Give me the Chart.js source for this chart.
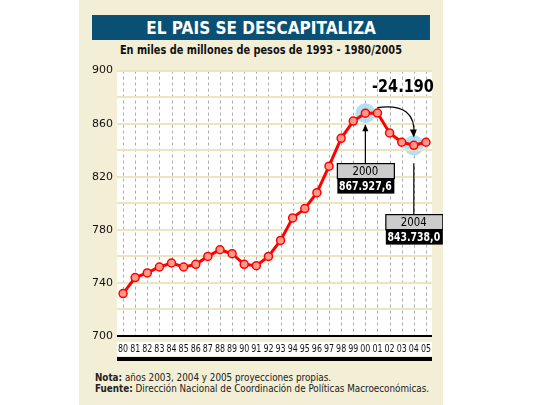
<!DOCTYPE html>
<html><head><meta charset="utf-8">
<script src="https://cdn.jsdelivr.net/npm/chart.js@4"></script>
<style>
body{margin:0;width:540px;height:405px;background:#fff;position:relative;font-family:"DejaVu Sans","Liberation Sans",sans-serif;overflow:hidden}
#panel{position:absolute;left:79px;top:0;width:364px;height:405px;background:#f3eed6}
#banner{position:absolute;left:92px;top:15px;width:338px;height:25px;background:#0a5074;color:#fff;font:bold 18px "DejaVu Sans",sans-serif;text-align:center;line-height:25px}
#banner span,#sub span{display:inline-block;transform:scaleX(0.85)}
#sub{position:absolute;left:79px;top:43px;width:364px;text-align:center;font:bold 11.5px "DejaVu Sans",sans-serif;color:#111}
#wrap{position:absolute;left:79px;top:60px;width:364px;height:310px}
#notes{position:absolute;left:95px;top:372px;font:10px "DejaVu Sans",sans-serif;color:#222;line-height:11px;transform:scaleX(0.88);transform-origin:0 0;white-space:nowrap}
</style></head><body>
<div id="panel"></div>
<div id="banner"><span>EL PAIS SE DESCAPITALIZA</span></div>
<div id="sub"><span>En miles de millones de pesos de 1993 - 1980/2005</span></div>
<div id="wrap"><canvas id="c" width="364" height="310"></canvas></div>
<div id="notes"><b>Nota:</b> años 2003, 2004 y 2005 proyecciones propias.<br><b>Fuente:</b> Dirección Nacional de Coordinación de Políticas Macroeconómicas.</div>
<script>
const years=["80","81","82","83","84","85","86","87","88","89","90","91","92","93","94","95","96","97","98","99","00","01","02","03","04","05"];
const values=[732,744,747.5,752,755,752,754,760,765,762,754,753,760,772,789,796,808,828,849,862,867.9,868,853,846,843.7,846];
const yTicks=[700,740,780,820,860,900];
function ctext(ctx,t,x,y,sx){ctx.save();ctx.translate(x,y);ctx.scale(sx,1);ctx.fillText(t,0,0);ctx.restore();}
const deco={id:'deco',
beforeDraw(ch){const {ctx,chartArea:a}=ch;ctx.save();ctx.fillStyle='#fff';ctx.fillRect(a.left,a.top,a.right-a.left,a.bottom-a.top);
ctx.fillRect(a.left,a.bottom+6,a.right-a.left,14);ctx.fillStyle='#000';ctx.fillRect(a.left,a.bottom+21,a.right-a.left,4);
const x=ch.scales.x;ctx.strokeStyle='#aaa';ctx.setLineDash([3,3]);ctx.lineWidth=1;
years.forEach((y,i)=>{const px=Math.round(x.getPixelForValue(i))+0.5;ctx.beginPath();ctx.moveTo(px,a.top);ctx.lineTo(px,a.bottom);ctx.stroke();});
ctx.setLineDash([]);
ctx.fillStyle='#111';ctx.font='11px "DejaVu Sans"';ctx.textAlign='center';ctx.textBaseline='middle';
years.forEach((y,i)=>ctext(ctx,y,x.getPixelForValue(i),a.bottom+13,0.72));
ctx.fillStyle='rgba(160,215,240,0.8)';
[20,24].forEach(i=>{ctx.beginPath();ctx.arc(x.getPixelForValue(i),ch.scales.y.getPixelForValue(values[i]),10,0,7);ctx.fill();});
ctx.restore();},
afterDraw(ch){const {ctx,chartArea:a}=ch;const x=ch.scales.x,y=ch.scales.y;ctx.save();
ctx.fillStyle='#000';ctx.fillRect(a.left,a.bottom-1,a.right-a.left,2);
function box(i,top,l1,l2){const px=x.getPixelForValue(i);const py=y.getPixelForValue(values[i]);
ctx.strokeStyle='#000';ctx.lineWidth=1.2;ctx.beginPath();ctx.moveTo(px,top);ctx.lineTo(px,py+12);ctx.stroke();
ctx.beginPath();ctx.moveTo(px-3,py+18);ctx.lineTo(px,py+11);ctx.lineTo(px+3,py+18);ctx.fill();
const bx=px-28,w=57;ctx.fillStyle='#ccc';ctx.fillRect(bx,top,w,15);ctx.strokeRect(bx,top,w,15);ctx.fillStyle='#000';ctx.fillRect(bx,top+15,w,15);
ctx.textAlign='center';ctx.textBaseline='middle';ctx.fillStyle='#000';ctx.font='12px "DejaVu Sans"';ctext(ctx,l1,px,top+8,0.85);
ctx.fillStyle='#fff';ctx.font='bold 12px "DejaVu Sans"';ctext(ctx,l2,px,top+23,0.78);}
box(20,a.top+93,'2000','867.927,6');box(24,a.top+144,'2004','843.738,0');
const x1=x.getPixelForValue(21),x2=x.getPixelForValue(24);const y0=a.top+37;
ctx.strokeStyle='#000';ctx.lineWidth=1.2;ctx.beginPath();ctx.moveTo(x1,y0);ctx.quadraticCurveTo(x2+3,y0-5,x2,y0+28);ctx.stroke();
ctx.beginPath();ctx.moveTo(x2-4,y0+22);ctx.lineTo(x2,y0+30);ctx.lineTo(x2+3,y0+22);ctx.fillStyle='#000';ctx.fill();
ctx.font='bold 17px "DejaVu Sans"';ctx.textAlign='center';ctx.textBaseline='middle';ctext(ctx,'-24.190',x.getPixelForValue(23.1),a.top+17,0.85);
ctx.restore();}};
new Chart(document.getElementById('c'),{type:'line',
data:{labels:years,datasets:[{data:values,borderColor:'#f00',borderWidth:3,pointRadius:4,pointBackgroundColor:'#ff9a8a',pointBorderColor:'#f00',pointBorderWidth:1.5,tension:0}]},
options:{responsive:false,animation:false,layout:{padding:{left:0,right:11,top:10,bottom:0}},
plugins:{legend:{display:false},tooltip:{enabled:false}},
scales:{x:{offset:true,grid:{display:false},border:{display:false},ticks:{color:'rgba(0,0,0,0)',font:{size:10},maxRotation:0,autoSkip:false,padding:7}},
y:{min:700,max:900,afterFit(s){s.width=38;},border:{display:false},grid:{color:'#ede4c2',lineWidth:2,drawTicks:false},
ticks:{stepSize:20,padding:4,color:'#111',font:{size:11,family:'DejaVu Sans'},callback:v=>yTicks.includes(v)?v:''}}}},
plugins:[deco]});
</script></body></html>
